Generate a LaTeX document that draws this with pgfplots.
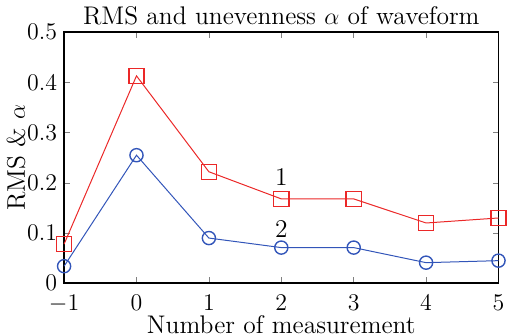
\documentclass[border=0pt]{standalone}
\usepackage{pgfplots}
\pgfplotsset{compat=1.18}
\definecolor{myred}{RGB}{235,40,40}
\definecolor{myblue}{RGB}{50,85,185}
\newcommand{\bigf}{\fontsize{12.8}{14}\selectfont}
\begin{document}
\begin{tikzpicture}
\begin{axis}[
  scale only axis,
  width=218pt, height=126pt,
  xmin=-1, xmax=5, ymin=0, ymax=0.5,
  xtick={-1,0,...,5}, ytick={0,0.1,...,0.5},
  tick align=inside,
  major tick length=3pt,
  axis line style={line width=0.8pt},
  tick label style={font=\bigf},
  label style={font=\bigf},
  title style={font=\bigf, yshift=-6pt},
  title={RMS and unevenness $\alpha$ of waveform},
  xlabel={Number of measurement},
  ylabel={RMS \& $\alpha$},
  xticklabel style={yshift=-5pt, inner ysep=0.5pt},
  yticklabel style={inner ysep=0.5pt},
  xlabel style={yshift=0pt, inner ysep=1pt},
  ylabel style={yshift=-6pt},
  clip=false,
]
\addplot[myred, line width=0.5pt, mark=square, mark size=3.8pt, mark options={line width=0.7pt}]
  coordinates {(-1,0.078) (0,0.413) (1,0.222) (2,0.168) (3,0.168) (4,0.12) (5,0.13)};
\addplot[myblue, line width=0.5pt, mark=o, mark size=3.3pt, mark options={line width=0.7pt}]
  coordinates {(-1,0.034) (0,0.255) (1,0.09) (2,0.071) (3,0.071) (4,0.041) (5,0.045)};
\node[font=\bigf] at (axis cs:2,0.212) {1};
\node[font=\bigf] at (axis cs:2,0.108) {2};
\end{axis}
\end{tikzpicture}
\end{document}
